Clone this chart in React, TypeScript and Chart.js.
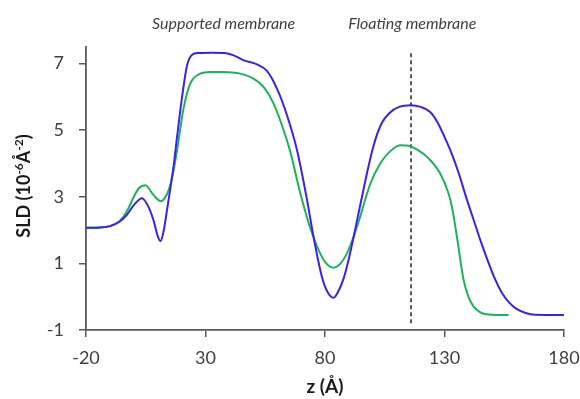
import { useEffect, useRef } from "react";
import { Chart, registerables } from "chart.js";

Chart.register(...registerables);

const xTicks = [-20, 30, 80, 130, 180];
const yTicks = [-1, 1, 3, 5, 7];

const blueX = [-20, -14, -10, -6, -3, 0, 3.4, 6, 8.3, 10, 11.2, 12.5, 14.1, 16.7, 18.1, 20.2, 22.3, 24.4, 27, 33, 38, 41.8, 46, 51.5, 55.7, 59.9, 64.1, 68.3, 72.5, 75.2, 78.7, 81, 83.6, 85.5, 87.8, 90, 92, 94, 96.2, 98, 100, 102, 104, 107, 111, 116, 120, 124, 127, 130, 133, 136, 139, 142, 145, 148, 151, 154, 157, 160, 164, 168, 180];
const blueY = [2.07, 2.08, 2.12, 2.25, 2.45, 2.75, 2.96, 2.72, 2.28, 1.82, 1.67, 1.98, 2.7, 3.95, 4.8, 6.0, 6.95, 7.27, 7.32, 7.33, 7.32, 7.25, 7.1, 6.98, 6.78, 6.25, 5.45, 4.4, 2.9, 1.8, 0.6, 0.15, -0.03, 0.15, 0.55, 1.15, 1.8, 2.5, 3.25, 3.85, 4.45, 4.92, 5.25, 5.52, 5.7, 5.75, 5.7, 5.55, 5.25, 4.8, 4.3, 3.7, 3.0, 2.35, 1.7, 1.1, 0.55, 0.12, -0.17, -0.36, -0.49, -0.54, -0.55];

const greenX = [-20, -14, -10, -6, -3, 0, 2, 4.8, 8.3, 11.4, 13, 14.6, 16.1, 18.1, 20.8, 23.6, 27.8, 32, 37.5, 44.6, 50.1, 54.3, 58.5, 62.7, 65.5, 69.7, 73.9, 78, 80.5, 83.6, 86.5, 89.2, 93.4, 99, 103.1, 107, 111.5, 115.7, 119, 122.7, 128.2, 131.7, 133.1, 135.2, 138, 140, 142.2, 145, 147.8, 152, 156.8];
const greenY = [2.07, 2.08, 2.12, 2.27, 2.55, 3.0, 3.25, 3.35, 3.05, 2.87, 2.97, 3.2, 3.6, 4.4, 5.65, 6.4, 6.7, 6.75, 6.75, 6.7, 6.55, 6.3, 5.8, 5.0, 4.35, 3.1, 2.05, 1.3, 1.0, 0.87, 1.0, 1.3, 2.1, 3.4, 4.0, 4.35, 4.55, 4.52, 4.4, 4.2, 3.7, 3.1, 2.7, 1.8, 0.5, 0.0, -0.3, -0.47, -0.53, -0.55, -0.55];

const markerX = [116, 116];
const markerY = [-0.8, 7.35];

const annotationLabels = ["Supported membrane", "Floating membrane"];
const annotationAt = [37.6, 116.5];

const xTitle = "z (Å)";
const yTitleParts = [
  { t: "SLD (10", sup: false },
  { t: "-6", sup: true },
  { t: "Å", sup: false },
  { t: "-2", sup: true },
  { t: ")", sup: false },
];

const toPoints = (xs: number[], ys: number[]) => xs.map((x, i) => ({ x, y: ys[i] }));

const textPlugin = {
  id: "texts",
  afterDraw(chart: any) {
    const ctx = chart.ctx as CanvasRenderingContext2D;
    const xs = chart.scales.x;
    const area = chart.chartArea;
    ctx.save();
    ctx.font = "italic 16px Lato";
    ctx.fillStyle = "#404040";
    ctx.textAlign = "center";
    ctx.textBaseline = "alphabetic";
    annotationLabels.forEach((l, i) => ctx.fillText(l, xs.getPixelForValue(annotationAt[i]), 29));

    ctx.font = "bold 19px Lato";
    ctx.fillStyle = "#1a1a1a";
    ctx.fillText(xTitle, (area.left + area.right) / 2, 393);

    const mainFont = "bold 18px Lato";
    const supFont = "bold 12px Lato";
    let total = 0;
    const widths = yTitleParts.map((p) => {
      ctx.font = p.sup ? supFont : mainFont;
      const w = ctx.measureText(p.t).width;
      total += w;
      return w;
    });
    ctx.translate(30, 186);
    ctx.rotate(-Math.PI / 2);
    ctx.textAlign = "left";
    let cx = -total / 2;
    yTitleParts.forEach((p, i) => {
      ctx.font = p.sup ? supFont : mainFont;
      ctx.fillText(p.t, cx, p.sup ? -7.5 : 0);
      cx += widths[i];
    });
    ctx.restore();
  },
};

export default function App() {
  const ref = useRef<HTMLCanvasElement | null>(null);
  useEffect(() => {
    if (!ref.current) return;
    const axisColor = "#595959";
    const chart = new Chart(ref.current, {
      type: "line",
      data: {
        datasets: [
          {
            data: toPoints(blueX, blueY),
            borderColor: "#3d1ff0",
            borderWidth: 2,
            pointRadius: 0,
            cubicInterpolationMode: "monotone",
            fill: false,
          },
          {
            data: toPoints(greenX, greenY),
            borderColor: "#1db35a",
            borderWidth: 2,
            pointRadius: 0,
            cubicInterpolationMode: "monotone",
            fill: false,
          },
          {
            data: toPoints(markerX, markerY),
            borderColor: "#000000",
            borderWidth: 1.3,
            borderDash: [4, 3],
            pointRadius: 0,
            tension: 0,
            fill: false,
          },
        ],
      },
      options: {
        responsive: false,
        animation: false,
        events: [],
        layout: { padding: { left: 0, right: 16, top: 47, bottom: 0 } },
        plugins: { legend: { display: false }, tooltip: { enabled: false } },
        scales: {
          x: {
            type: "linear",
            min: -20,
            max: 180,
            afterBuildTicks: (s: any) => {
              s.ticks = xTicks.map((v) => ({ value: v }));
            },
            afterFit: (s: any) => {
              s.height = 69;
              s.paddingLeft = 0;
              s.paddingRight = 0;
            },
            grid: { drawOnChartArea: false, drawTicks: true, tickLength: 7, color: axisColor, lineWidth: 1.5 },
            border: { color: axisColor, width: 1.8 },
            ticks: { color: "#404040", font: { family: "Lato", size: 18 }, padding: 10, maxRotation: 0 },
          },
          y: {
            type: "linear",
            min: -1,
            max: 7.5,
            afterBuildTicks: (s: any) => {
              s.ticks = yTicks.map((v) => ({ value: v }));
            },
            afterFit: (s: any) => {
              s.width = 86;
              s.paddingTop = 0;
              s.paddingBottom = 0;
            },
            grid: { drawOnChartArea: false, drawTicks: true, tickLength: 7, color: axisColor, lineWidth: 1.5 },
            border: { color: axisColor, width: 1.8 },
            ticks: { color: "#404040", font: { family: "Lato", size: 18 }, padding: 15 },
          },
        },
      },
      plugins: [textPlugin],
    } as any);
    return () => chart.destroy();
  }, []);
  return (
    <div style={{ position: "fixed", left: 0, top: 0, width: 580, height: 399, background: "#fff" }}>
      <canvas ref={ref} width={580} height={399} />
    </div>
  );
}
